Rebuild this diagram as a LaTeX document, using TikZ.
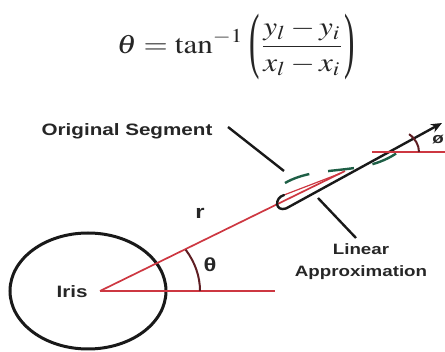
\documentclass[tikz,border=0pt]{standalone}
\usepackage{mathptmx}
\usepackage{fontspec}
\usepackage{graphicx}
\usetikzlibrary{arrows.meta,shapes.geometric}
\newfontfamily\lsans{Liberation Sans}
\newfontfamily\lserif{Liberation Serif}
\newcommand{\mylbl}[2]{\scalebox{1.25}[1]{\lsans\bfseries\fontsize{#1}{22}\selectfont #2}}
\newcommand{\bigparen}[1]{\raisebox{-4.3pt}{\scalebox{1}[2.75]{\lserif #1}}}
\definecolor{redc}{RGB}{205,55,65}
\definecolor{arcc}{RGB}{95,30,35}
\definecolor{grnc}{RGB}{30,95,70}
\begin{document}
\begin{tikzpicture}[x=1pt,y=-1pt,
  every node/.style={inner sep=0pt, text=black!85},
  redln/.style={draw=redc, line width=1.7pt},
  blk/.style={draw=black!90, line width=2.4pt},
  arcln/.style={draw=arcc, line width=2pt},
  grn/.style={draw=grnc, line width=2.4pt, dash pattern=on 26pt off 19pt}]
\useasboundingbox (0,0) rectangle (445,352);

% formula
\node (formula) at (236,47) {\resizebox*{238pt}{66pt}{$\displaystyle \theta = \tan^{-1}$\,\bigparen{(}$\displaystyle\frac{y_l - y_i}{x_l - x_i}$\bigparen{)}}};

% iris ellipse
\node[draw=black!90, line width=3pt, ellipse, minimum width=156pt, minimum height=116pt] (iris) at (88,291) {};
\node (iristxt) at (72,292) {\mylbl{16.5}{Iris}};

% red lines
\coordinate (O) at (100,291);
\coordinate (H) at (275,291);
\coordinate (R) at (345,171);
\draw[redln] (O) -- (H);
\draw[redln] (O) -- (R);

% theta arc
\draw[arcln] (200,291) arc[start angle=0, end angle=31, x radius=100pt, y radius=80pt];
\node (th) at (210,265) {\mylbl{19}{θ}};
\node (rl) at (200,213) {\mylbl{19}{r}};

% linear approximation (hairpin + arrow)
\coordinate (hpt) at (284,195);
\coordinate (hpb) at (286,208.5);
\coordinate (tip) at (442,123);
\coordinate (mrg) at (340,173.5);
\draw[redc, line width=1.2pt] (hpt) -- (mrg);
\draw[blk, line cap=round] (hpt) .. controls (274,198) and (275,212) .. (hpb);
\draw[blk, -{Stealth[length=11pt,width=9pt]}] (hpb) -- (tip);

% original segment (dashed)
\coordinate (s1) at (285,183);
\coordinate (s2) at (401,150);
\draw[grn] (s1) .. controls (320,163) and (365,178) .. (s2);

% phi angle
\coordinate (P) at (372,152);
\coordinate (Pe) at (445,152);
\draw[redln] (P) -- (Pe);
\draw[arcln] (419,152) arc[start angle=0, end angle=48, x radius=30pt, y radius=24pt];
\node (phi) at (438,140) {\mylbl{15}{ø}};

% labels with pointers
\node (orig) at (127,131) {\mylbl{16.5}{Original Segment}};
\coordinate (op1) at (228,127);
\coordinate (op2) at (284,171);
\draw[blk] (op1) -- (op2);

\node (lin) at (361,261) {\mylbl{15}{\begin{tabular}{@{}c@{}}Linear\\Approximation\end{tabular}}};
\coordinate (lp1) at (318,198);
\coordinate (lp2) at (356,238);
\draw[blk] (lp1) -- (lp2);
\end{tikzpicture}
\end{document}
